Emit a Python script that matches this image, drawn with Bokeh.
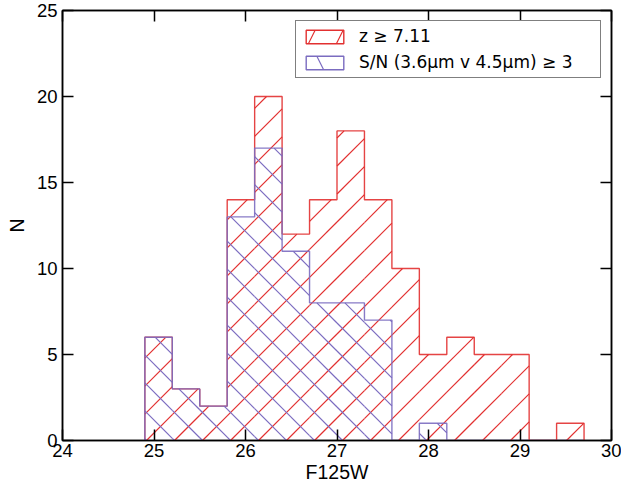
import math
import numpy as np
from bokeh.plotting import figure
from bokeh.models import (Range1d, FixedTicker, LinearAxis, Legend, LegendItem,
                          ColumnDataSource)
from bokeh.embed import file_html
from bokeh.resources import INLINE

# ---- data ----
bin_edges = [24.9, 25.2, 25.5, 25.8, 26.1, 26.4, 26.7, 27.0, 27.3,
             27.6, 27.9, 28.2, 28.5, 28.8, 29.1, 29.4, 29.7]
z_counts = [6, 3, 2, 14, 20, 12, 14, 18, 14, 10, 5, 6, 5, 5, 0, 1]
sn_counts = [6, 3, 2, 13, 17, 11, 8, 8, 7, 0, 1, 0, 0, 0, 0, 0]
x_ticks = [24, 25, 26, 27, 28, 29, 30]
y_ticks = [0, 5, 10, 15, 20, 25]
series_labels = ["z \u2265 7.11", "S/N (3.6\u00b5m v 4.5\u00b5m) \u2265 3"]
x_label = "F125W"
y_label = "N"

# ---- styling / layout ----
RED = "#e23030"
BLUE = "#7b6cc0"
TICK_FONT = "Liberation Sans"
W, H = 621, 485
B_LEFT, B_RIGHT, B_TOP, B_BOTTOM = 62, 10, 10, 45
X_MIN, X_MAX, Y_MIN, Y_MAX = 24, 30, 0, 25
HATCH_PX = 28.0       # horizontal spacing of hatch lines, in pixels

p = figure(width=W, height=H, output_backend="svg", toolbar_location=None,
           x_range=Range1d(X_MIN, X_MAX), y_range=Range1d(Y_MIN, Y_MAX),
           min_border_left=B_LEFT, min_border_right=B_RIGHT,
           min_border_top=B_TOP, min_border_bottom=B_BOTTOM)
p.grid.visible = False
p.outline_line_color = "black"
p.outline_line_width = 1.5
p.background_fill_color = "white"
p.border_fill_color = "white"

# pixel scale of the frame, used to keep the hatch at 45 degrees on screen
SX = (W - B_LEFT - B_RIGHT) / (X_MAX - X_MIN)
SY = (H - B_TOP - B_BOTTOM) / (Y_MAX - Y_MIN)


def hatch_segments(edges, counts, direction):
    """45-degree hatch lines clipped to each histogram bar."""
    x0s, y0s, x1s, y1s = [], [], [], []
    for l, r, t in zip(edges[:-1], edges[1:], counts):
        if t <= 0:
            continue
        ul, ur, vt = (l - X_MIN) * SX, (r - X_MIN) * SX, t * SY
        if direction > 0:
            cmin, cmax = -ur, vt - ul
        else:
            cmin, cmax = ul, vt + ur
        for k in range(math.ceil(cmin / HATCH_PX), math.floor(cmax / HATCH_PX) + 1):
            c = k * HATCH_PX
            if direction > 0:
                ua, ub = max(ul, -c), min(ur, vt - c)
                va, vb = ua + c, ub + c
            else:
                ua, ub = max(ul, c - vt), min(ur, c)
                va, vb = c - ua, c - ub
            if ub - ua > 0.05:
                x0s.append(X_MIN + ua / SX)
                x1s.append(X_MIN + ub / SX)
                y0s.append(va / SY)
                y1s.append(vb / SY)
    return dict(x0=x0s, y0=y0s, x1=x1s, y1=y1s)


def step_xy(edges, counts):
    e = np.asarray(edges, dtype=float)
    c = np.asarray(counts, dtype=float)
    xs = np.repeat(e, 2)
    ys = np.concatenate([[0.0], np.repeat(c, 2), [0.0]])
    return xs, ys


def draw_hist(counts, color, direction, legend_pattern):
    seg = ColumnDataSource(hatch_segments(bin_edges, counts, direction))
    p.segment(x0="x0", y0="y0", x1="x1", y1="y1", source=seg,
              line_color=color, line_width=1.2)
    xs, ys = step_xy(bin_edges, counts)
    p.line(xs, ys, line_color=color, line_width=1.4, line_alpha=0.9)
    # legend proxy (no visible data on the plot)
    proxy = p.quad(left=[np.nan], right=[np.nan], top=[np.nan], bottom=[np.nan],
                   fill_color=None, line_color=color, line_width=1.4,
                   hatch_pattern=legend_pattern, hatch_color=color,
                   hatch_scale=56, hatch_weight=1.2)
    return proxy


r_red = draw_hist(z_counts, RED, +1, "/")
r_blue = draw_hist(sn_counts, BLUE, -1, "\\")

# ---- axes ----
for ax in (p.xaxis[0], p.yaxis[0]):
    ax.major_tick_in = 11
    ax.major_tick_out = 0
    ax.minor_tick_in = 0
    ax.minor_tick_out = 0
    ax.axis_line_width = 1.5
    ax.major_tick_line_width = 1.5
    ax.major_label_text_font = TICK_FONT
    ax.major_label_text_font_size = "18.5px"
    ax.major_label_text_color = "black"
    ax.axis_label_text_font = TICK_FONT
    ax.axis_label_text_font_size = "19.5px"
    ax.axis_label_text_font_style = "normal"
    ax.axis_label_text_color = "black"

p.xaxis[0].ticker = FixedTicker(ticks=x_ticks)
p.yaxis[0].ticker = FixedTicker(ticks=y_ticks)
p.xaxis[0].axis_label = x_label
p.yaxis[0].axis_label = y_label
p.xaxis[0].major_label_standoff = 3
p.xaxis[0].axis_label_standoff = 1
p.yaxis[0].major_label_standoff = 5
p.yaxis[0].axis_label_standoff = 6

for loc, ticks in (("above", x_ticks), ("right", y_ticks)):
    ax = LinearAxis(ticker=FixedTicker(ticks=ticks))
    ax.major_tick_in = 11
    ax.major_tick_out = 0
    ax.minor_tick_in = 0
    ax.minor_tick_out = 0
    ax.axis_line_width = 1.5
    ax.major_tick_line_width = 1.5
    ax.major_label_text_font_size = "0px"
    ax.major_label_text_color = None
    ax.major_label_standoff = 0
    p.add_layout(ax, loc)

# ---- legend ----
legend = Legend(items=[LegendItem(label=series_labels[0], renderers=[r_red]),
                       LegendItem(label=series_labels[1], renderers=[r_blue])],
                location="top_right")
legend.margin = 10
legend.padding = 5
legend.spacing = 6
legend.glyph_width = 47
legend.glyph_height = 17
legend.label_standoff = 11
legend.label_width = 236
legend.label_height = 20
legend.label_text_font = "DejaVu Sans"
legend.label_text_font_size = "17px"
legend.label_text_color = "black"
legend.border_line_color = "black"
legend.border_line_width = 1.5
legend.background_fill_alpha = 1.0
p.add_layout(legend)

open("out.html", "w").write(file_html(p, INLINE))
